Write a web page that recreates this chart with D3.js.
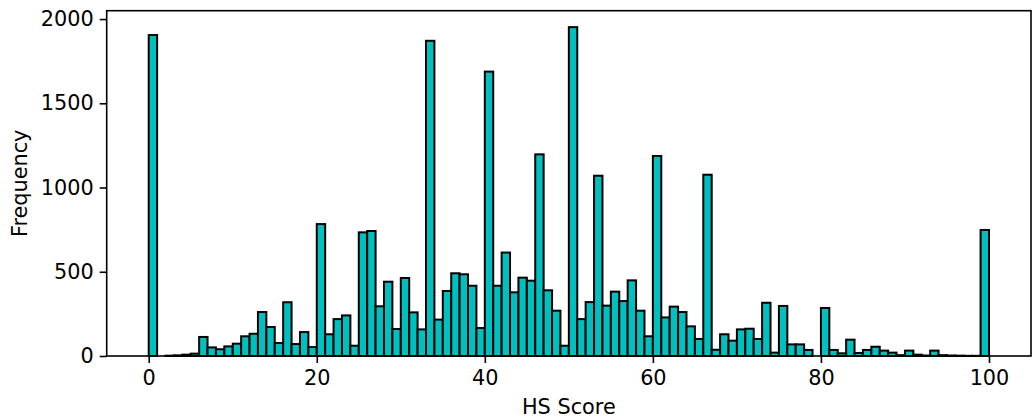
<!DOCTYPE html>
<html>
<head>
<meta charset="utf-8">
<script src="https://cdn.jsdelivr.net/npm/d3@7"></script>
<style>
  html, body { margin: 0; padding: 0; background: #fff; }
  svg { display: block; }
  text { font-family: "DejaVu Sans", sans-serif; fill: #000; }
</style>
</head>
<body>
<svg id="chart" width="1032" height="419"></svg>
<script>
// Histogram counts for HS Score bins [0,1), [1,2), ..., [99,100]
const binStart = 0;
const binWidth = 1;
const counts = [
  1905, 0, 2, 4, 8, 14, 113, 51, 40, 57,
  73, 117, 132, 261, 172, 77, 319, 71, 142, 53,
  783, 129, 219, 241, 61, 734, 742, 295, 441, 160,
  463, 259, 158, 1871, 216, 386, 491, 485, 417, 166,
  1688, 417, 614, 378, 465, 447, 1197, 390, 269, 61,
  1952, 219, 320, 1070, 299, 382, 326, 449, 269, 117,
  1187, 229, 293, 261, 176, 101, 1076, 37, 129, 91,
  158, 162, 101, 316, 20, 297, 69, 69, 36, 0,
  285, 36, 16, 97, 18, 36, 55, 32, 20, 5,
  32, 8, 3, 32, 5, 3, 2, 1, 1, 748
];
const xTicks = [0, 20, 40, 60, 80, 100];
const yTicks = [0, 500, 1000, 1500, 2000];
const xLabel = "HS Score";
const yLabel = "Frequency";

(function () {
const bins = counts.map((c, i) => ({ x0: binStart + i * binWidth, x1: binStart + (i + 1) * binWidth, count: c }));

const svg = d3.select("#chart");
const mLeft = 106.7, mRight = 1031, mTop = 10.7, mBottom = 356;
const fs = "20.8px";

const xMin = 0, xMax = 100, pad = (xMax - xMin) * 0.05;
const x = d3.scaleLinear().domain([xMin - pad, xMax + pad]).range([mLeft, mRight]);
const yMax = d3.max(counts) * 1.05;
const y = d3.scaleLinear().domain([0, yMax]).range([mBottom, mTop]);

// bars
svg.append("g").selectAll("rect").data(bins).join("rect")
  .attr("x", d => x(d.x0))
  .attr("width", d => x(d.x1) - x(d.x0))
  .attr("y", d => y(d.count))
  .attr("height", d => y(0) - y(d.count))
  .attr("fill", "#00bfbf")
  .attr("stroke", "#000")
  .attr("stroke-width", 2);

// axes
const xAxis = d3.axisBottom(x).tickValues(xTicks).tickSize(7).tickPadding(6).tickFormat(d3.format("d"));
const yAxis = d3.axisLeft(y).tickValues(yTicks).tickSize(7).tickPadding(6).tickFormat(d3.format("d"));

const gx = svg.append("g").attr("transform", `translate(0,${mBottom})`).call(xAxis);
const gy = svg.append("g").attr("transform", `translate(${mLeft},0)`).call(yAxis);
[gx, gy].forEach(g => {
  g.select(".domain").remove();
  g.selectAll(".tick line").attr("stroke", "#000").attr("stroke-width", 1.6);
  g.selectAll(".tick text").style("font-family", "DejaVu Sans").style("font-size", fs).attr("fill", "#000");
});
gx.selectAll(".tick text").attr("dy", "0.76em");

// spines
svg.append("rect")
  .attr("x", mLeft).attr("y", mTop)
  .attr("width", mRight - mLeft).attr("height", mBottom - mTop)
  .attr("fill", "none").attr("stroke", "#000").attr("stroke-width", 1.6);

// labels
svg.append("text")
  .attr("x", (mLeft + mRight) / 2).attr("y", 414)
  .attr("text-anchor", "middle")
  .style("font-size", fs)
  .text(xLabel);
svg.append("text")
  .attr("transform", `translate(27,${(mTop + mBottom) / 2}) rotate(-90)`)
  .attr("text-anchor", "middle")
  .style("font-size", fs)
  .text(yLabel);
})();
</script>
</body>
</html>
